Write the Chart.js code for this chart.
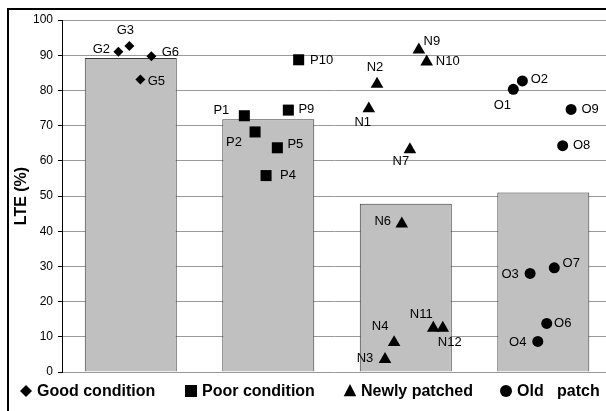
<!DOCTYPE html>
<html lang="en">
<head>
<meta charset="UTF-8">
<title>LTE by pavement condition</title>
<style>
  body { margin: 0; background: #fff; overflow: hidden; }
  #wrap { width: 606px; height: 411px; }
</style>
</head>
<body>
<div id="wrap"><canvas id="lteChart" width="606" height="411"></canvas></div>

<script src="https://cdn.jsdelivr.net/npm/chart.js"></script>
<script>
  // group averages, drawn as the grey bars
  const groups = ['Good condition', 'Poor condition', 'Newly patched', 'Old   patch'];
  const groupAvg = [89.2, 71.8, 47.8, 51.0];

  // single sections: name, position inside its group column, LTE value
  const goodNames = ['G2', 'G3', 'G5', 'G6'];
  const goodX = [0.41, 0.49, 0.57, 0.65];
  const goodLTE = [91.0, 92.6, 83.1, 89.7];

  const poorNames = ['P1', 'P2', 'P4', 'P5', 'P9', 'P10'];
  const poorX = [1.326, 1.404, 1.484, 1.566, 1.646, 1.721];
  const poorLTE = [72.8, 68.2, 55.8, 63.7, 74.4, 88.7];

  const newNames = ['N1', 'N2', 'N3', 'N4', 'N6', 'N7', 'N9', 'N10', 'N11', 'N12'];
  const newX = [2.231, 2.291, 2.349, 2.415, 2.471, 2.53, 2.595, 2.652, 2.70, 2.769];
  const newLTE = [74.8, 81.8, 3.6, 8.4, 42.1, 63.2, 91.5, 88.1, 12.5, 12.5];

  const oldNames = ['O1', 'O2', 'O3', 'O4', 'O6', 'O7', 'O8', 'O9'];
  const oldX = [3.282, 3.348, 3.404, 3.46, 3.525, 3.58, 3.641, 3.702];
  const oldLTE = [80.3, 82.7, 28.0, 8.7, 13.8, 29.6, 64.3, 74.6];

  const yTicks = { min: 0, max: 100, step: 10 };

  // where each point label sits relative to its marker (px)
  const goodLabelOff = [[-17, -2], [-4, -16], [16, 2], [19, -4]];
  const poorLabelOff = [[-23, -5], [-21, 10], [22, 0], [18, -3], [18, -1], [23, 1]];
  const newLabelOff = [[-6, 14], [-2, -17], [-20, -1], [-14, -16], [-19, -2], [-9, 12], [13, -8], [21, 0], [-12, -14], [7, 14]];
  const oldLabelOff = [[-11, 16], [17, -1], [-20, 1], [-20, 1], [16, 0], [17, -4], [19, 0], [19, 0]];

  const FONT = '"Liberation Sans", Arial, sans-serif';

  function points(xs, ys) {
    return xs.map((x, i) => ({ x: x, y: ys[i] }));
  }

  // small marker painter, used for the legend
  function marker(ctx, style, x, y, r) {
    ctx.beginPath();
    if (style === 'circle') {
      ctx.arc(x, y, r, 0, Math.PI * 2);
    } else if (style === 'rect') {
      ctx.rect(x - r, y - r, 2 * r, 2 * r);
    } else if (style === 'rectRot') {
      ctx.moveTo(x, y - r); ctx.lineTo(x + r, y); ctx.lineTo(x, y + r); ctx.lineTo(x - r, y);
    } else if (style === 'triangle') {
      ctx.moveTo(x, y - r); ctx.lineTo(x + r * 0.9, y + r * 0.75); ctx.lineTo(x - r * 0.9, y + r * 0.75);
    }
    ctx.closePath();
    ctx.fill();
  }

  const frame = {
    id: 'frame',
    beforeDraw(chart) {
      const ctx = chart.ctx;
      ctx.save();
      ctx.fillStyle = '#fff';
      ctx.fillRect(0, 0, chart.width, chart.height);
      ctx.fillStyle = '#000';
      ctx.fillRect(8, 8, chart.width - 8, 2);
      ctx.fillRect(7, 8, 2, chart.height - 8);
      ctx.restore();
    }
  };

  const pointLabels = {
    id: 'pointLabels',
    afterDatasetsDraw(chart) {
      const ctx = chart.ctx;
      ctx.save();
      ctx.font = '13px ' + FONT;
      ctx.fillStyle = '#000';
      ctx.textAlign = 'center';
      ctx.textBaseline = 'middle';
      chart.data.datasets.forEach((ds, i) => {
        if (!ds.names) return;
        chart.getDatasetMeta(i).data.forEach((pt, j) => {
          const off = ds.labelOff[j];
          ctx.fillText(ds.names[j], pt.x + off[0], pt.y + off[1]);
        });
      });
      ctx.restore();
    }
  };

  const bottomLegend = {
    id: 'bottomLegend',
    afterDraw(chart) {
      const ctx = chart.ctx;
      const y = 391;
      const boxX = [26, 191, 350, 506];
      ctx.save();
      ctx.font = 'bold 16px ' + FONT;
      ctx.fillStyle = '#000';
      ctx.textBaseline = 'middle';
      chart.data.datasets.filter(ds => ds.names).forEach((ds, i) => {
        marker(ctx, ds.pointStyle, boxX[i], y, ds.legendR);
        ctx.fillText(ds.label, boxX[i] + 11, y + 1);
      });
      ctx.restore();
    }
  };

  new Chart(document.getElementById('lteChart'), {
    type: 'scatter',
    data: {
      datasets: [
        {
          label: groups[0], names: goodNames, labelOff: goodLabelOff, legendR: 6,
          data: points(goodX, goodLTE),
          pointStyle: 'rectRot', pointRadius: 5, backgroundColor: '#000', borderWidth: 0, order: 0
        },
        {
          label: groups[1], names: poorNames, labelOff: poorLabelOff, legendR: 6,
          data: points(poorX, poorLTE),
          pointStyle: 'rect', pointRadius: 7.8, backgroundColor: '#000', borderWidth: 0, order: 0
        },
        {
          label: groups[2], names: newNames, labelOff: newLabelOff, legendR: 7,
          data: points(newX, newLTE),
          pointStyle: 'triangle', pointRadius: 7.3, backgroundColor: '#000', borderWidth: 0, order: 0
        },
        {
          label: groups[3], names: oldNames, labelOff: oldLabelOff, legendR: 6,
          data: points(oldX, oldLTE),
          pointStyle: 'circle', pointRadius: 5.5, backgroundColor: '#000', borderWidth: 0, order: 0
        },
        {
          type: 'bar',
          label: 'Average',
          data: groupAvg.map((v, i) => ({ x: i + 0.5, y: v })),
          backgroundColor: '#c0c0c0',
          borderColor: '#3a3a3a',
          borderWidth: 1,
          barPercentage: 0.669,
          categoryPercentage: 1,
          order: 10
        }
      ]
    },
    options: {
      responsive: false,
      animation: false,
      events: [],
      layout: { autoPadding: false, padding: { left: 8, top: 20, right: 0, bottom: 39 } },
      plugins: { legend: { display: false }, tooltip: { enabled: false } },
      scales: {
        x: {
          type: 'linear',
          display: false,
          offset: false,
          min: 0,
          max: 3.956,
          ticks: { stepSize: 1, includeBounds: false }
        },
        y: {
          min: yTicks.min,
          max: yTicks.max,
          ticks: { stepSize: yTicks.step, color: '#000', padding: 5, font: { size: 12, family: FONT } },
          grid: { color: '#999', tickColor: '#000', tickLength: 4 },
          border: { color: '#000', width: 1 },
          title: {
            display: true,
            text: 'LTE (%)',
            color: '#000',
            padding: { top: 4, bottom: 0 },
            font: { size: 16, weight: 'bold', family: FONT }
          },
          afterFit(scale) { scale.width = 54; }
        }
      }
    },
    plugins: [frame, pointLabels, bottomLegend]
  });
</script>
</body>
</html>
